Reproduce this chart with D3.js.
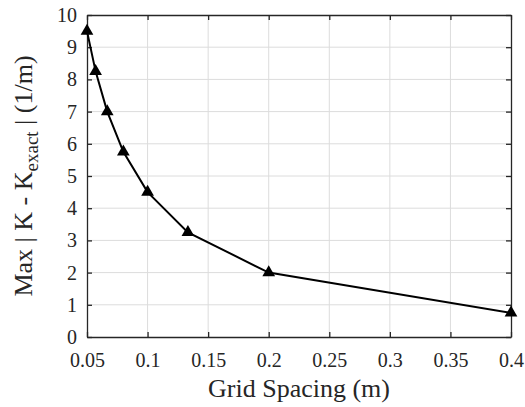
<!DOCTYPE html>
<html>
<head>
<meta charset="utf-8">
<script src="https://cdn.jsdelivr.net/npm/d3@7"></script>
<style>
  body { margin: 0; background: #fff; }
  svg { display: block; }
  svg text { font-family: "Liberation Serif", "Times New Roman", serif; }
</style>
</head>
<body>
<svg id="chart" width="525" height="407"></svg>
<script>
// grid spacing vs max curvature error
const spacing = [0.05, 0.0571, 0.0667, 0.08, 0.1, 0.1333, 0.2, 0.4];
const maxErr = [9.5, 8.25, 7.0, 5.75, 4.5, 3.25, 2.0, 0.75];
const xTicks = [0.05, 0.1, 0.15, 0.2, 0.25, 0.3, 0.35, 0.4];
const yTicks = [0, 1, 2, 3, 4, 5, 6, 7, 8, 9, 10];

const svg = d3.select("#chart"),
  margin = {top: 15, right: 14, bottom: 70, left: 87},
  width = +svg.attr("width") - margin.left - margin.right,
  height = +svg.attr("height") - margin.top - margin.bottom,
  g = svg.append("g").attr("transform", "translate(" + margin.left + "," + margin.top + ")");

const x = d3.scaleLinear().domain([0.05, 0.4]).range([0, width]);
const y = d3.scaleLinear().domain([0, 10]).range([height, 0]);

const axisColor = "#262626";

// grid
g.append("g")
  .selectAll("line")
  .data(xTicks.slice(1, -1))
  .enter().append("line")
  .attr("x1", d => x(d)).attr("x2", d => x(d))
  .attr("y1", 0).attr("y2", height)
  .attr("stroke", "#dcdcdc").attr("stroke-width", 1);

g.append("g")
  .selectAll("line")
  .data(yTicks.slice(1, -1))
  .enter().append("line")
  .attr("y1", d => y(d)).attr("y2", d => y(d))
  .attr("x1", 0).attr("x2", width)
  .attr("stroke", "#dcdcdc").attr("stroke-width", 1);

// axes with inward ticks
const styleAxis = (sel, showLabels) => {
  sel.attr("font-family", null).attr("font-size", null);
  sel.select(".domain").attr("stroke", axisColor).attr("stroke-width", 1.3);
  sel.selectAll(".tick line").attr("stroke", axisColor).attr("stroke-width", 1.3);
  if (showLabels) {
    sel.selectAll(".tick text").attr("fill", "#262626").style("font-size", "20px");
  } else {
    sel.selectAll(".tick text").remove();
  }
};

g.append("g")
  .attr("transform", "translate(0," + height + ")")
  .call(d3.axisBottom(x).tickValues(xTicks).tickFormat(d => String(+d.toFixed(2))).tickSizeInner(-5).tickSizeOuter(0).tickPadding(16))
  .call(sel => styleAxis(sel, true));

g.append("g")
  .call(d3.axisTop(x).tickValues(xTicks).tickSizeInner(-5).tickSizeOuter(0))
  .call(sel => styleAxis(sel, false));

g.append("g")
  .call(d3.axisLeft(y).tickValues(yTicks).tickSizeInner(-5).tickSizeOuter(0).tickPadding(10))
  .call(sel => styleAxis(sel, true));

g.append("g")
  .attr("transform", "translate(" + width + ",0)")
  .call(d3.axisRight(y).tickValues(yTicks).tickSizeInner(-5).tickSizeOuter(0))
  .call(sel => styleAxis(sel, false));

// data line
const pts = spacing.map((s, i) => [s, maxErr[i]]);
g.append("path")
  .datum(pts)
  .attr("fill", "none")
  .attr("stroke", "#000")
  .attr("stroke-width", 2)
  .attr("d", d3.line().x(d => x(d[0])).y(d => y(d[1])));

g.append("g")
  .selectAll("path")
  .data(pts)
  .enter().append("path")
  .attr("transform", d => "translate(" + x(d[0]) + "," + y(d[1]) + ")")
  .attr("d", d3.symbol().type(d3.symbolTriangle).size(70))
  .attr("fill", "#000");

// axis titles
svg.append("text")
  .attr("x", margin.left + width / 2)
  .attr("y", 397)
  .attr("text-anchor", "middle")
  .style("font-size", "26px")
  .attr("fill", "#262626")
  .text("Grid Spacing (m)");

const yl = svg.append("text")
  .attr("transform", "translate(32," + (margin.top + height / 2) + ") rotate(-90)")
  .attr("text-anchor", "middle")
  .style("font-size", "26px")
  .attr("fill", "#262626");
yl.append("tspan").text("Max | K - K");
yl.append("tspan").attr("dy", 6).style("font-size", "19px").text("exact");
yl.append("tspan").attr("dy", -6).text(" | (1/m)");
</script>
</body>
</html>
